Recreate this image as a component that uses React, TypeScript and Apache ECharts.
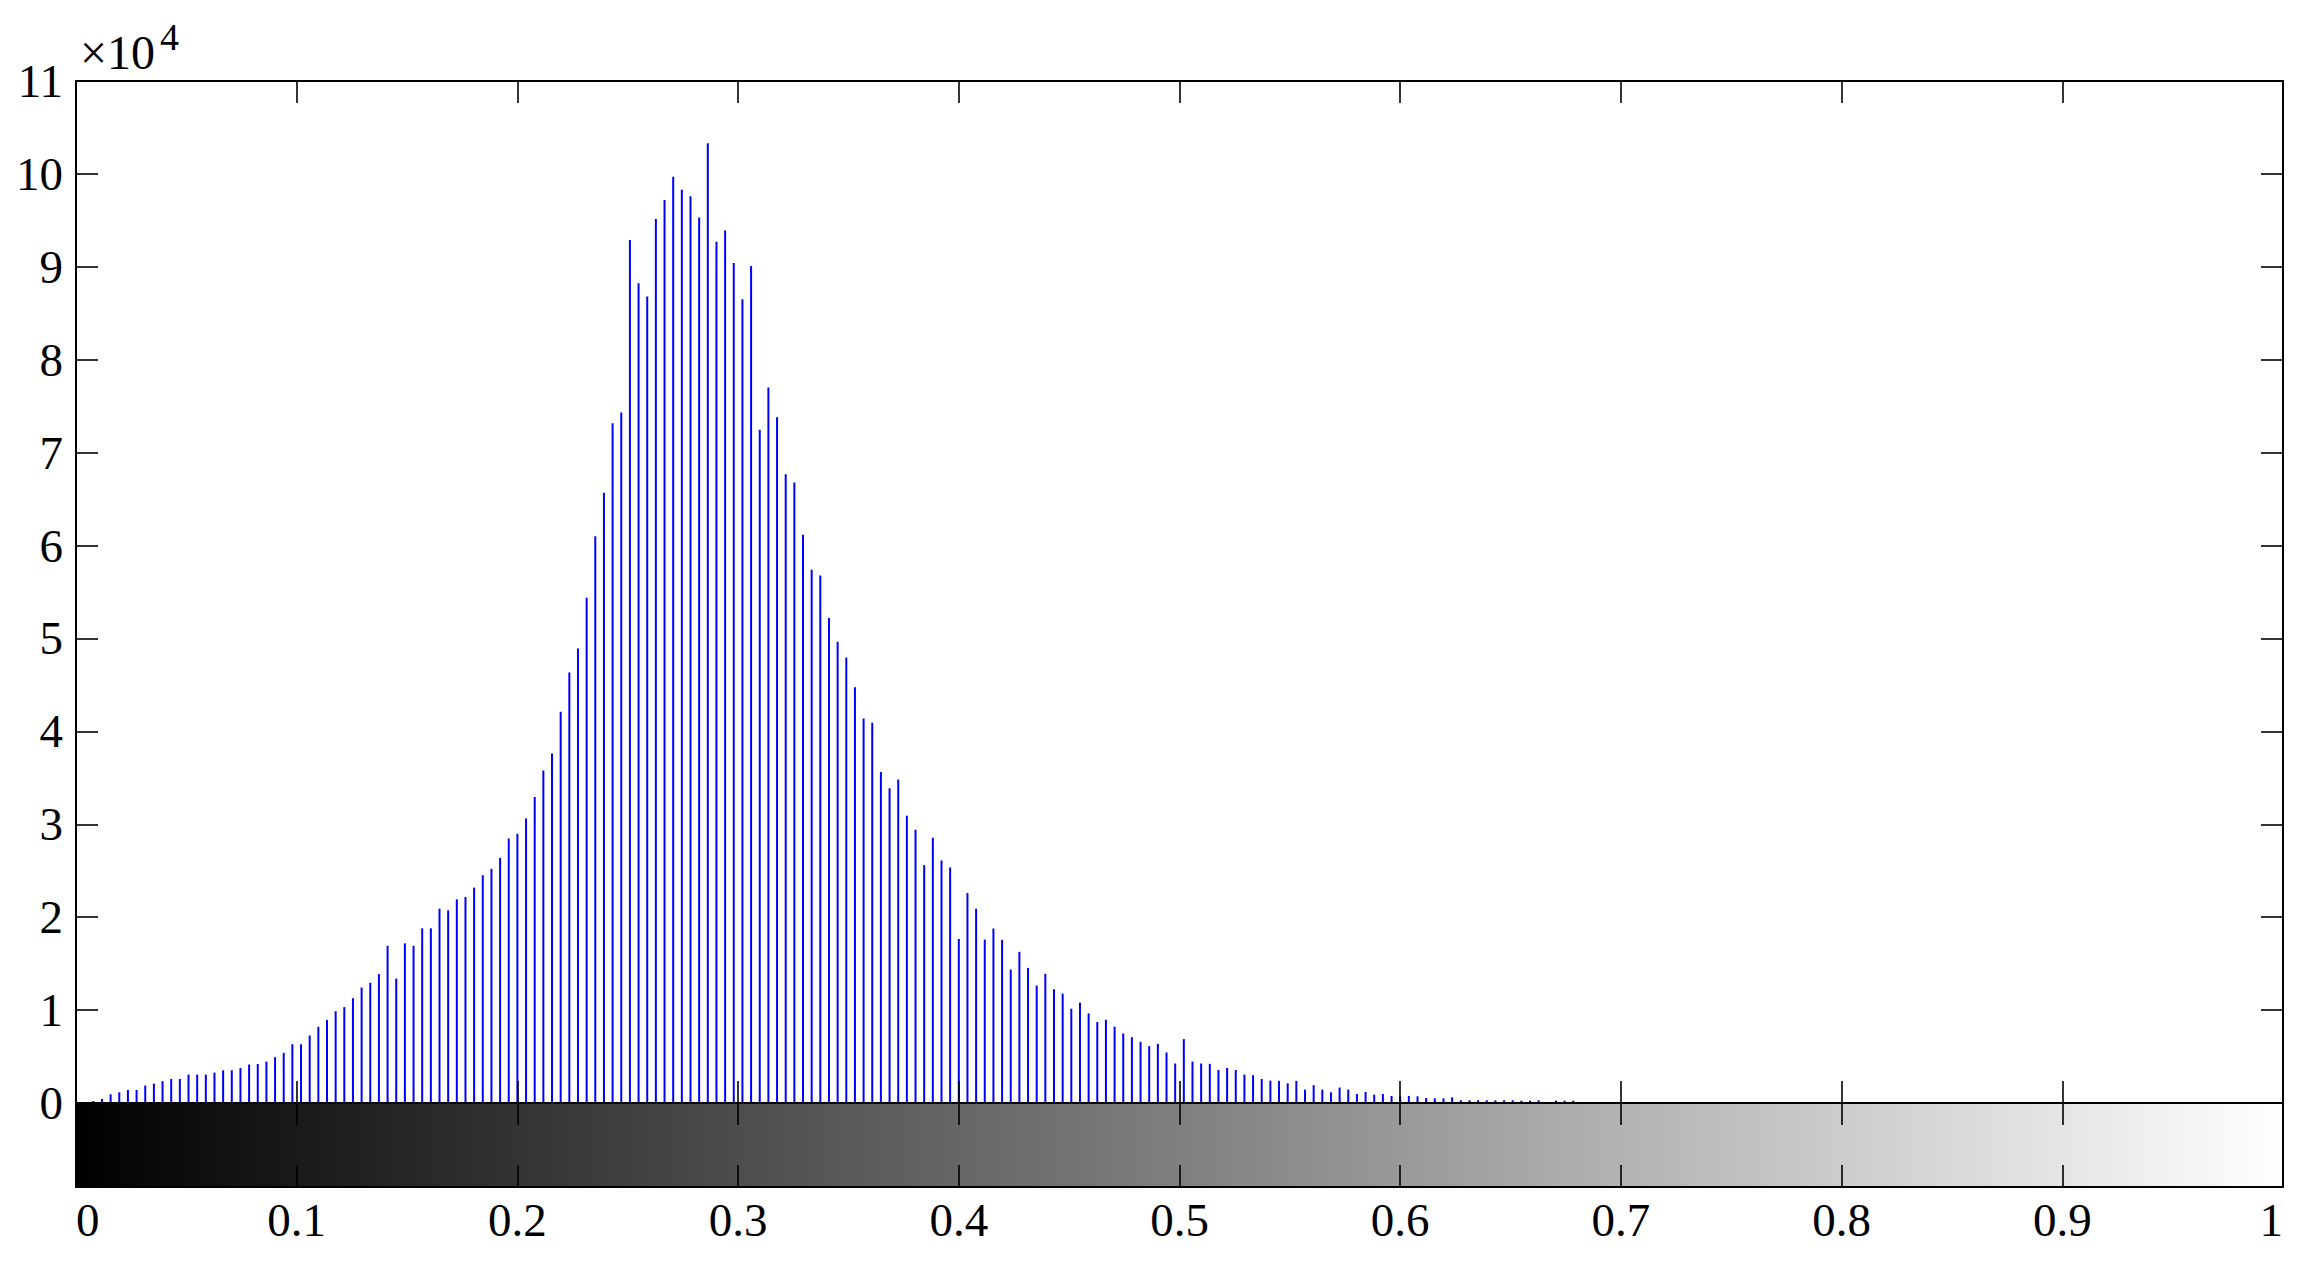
import React, { useEffect, useRef } from "react";
import * as echarts from "echarts";

// Histogram counts for 256 intensity bins (bin i sits at i/255)
const counts: number[] = [
  100, 0, 220, 440, 940, 1150, 1400, 1400, 1880, 2080,
  2350, 2590, 2590, 3060, 3060, 3060, 3270, 3520, 3520, 3760,
  4140, 4200, 4460, 4930, 5400, 6320, 6320, 7270, 8200, 8940,
  9880, 10320, 11280, 12430, 12940, 13870, 16920, 13390, 17180, 16920,
  18800, 18800, 20920, 20740, 21920, 22180, 23180, 24520, 25200, 26390,
  28470, 28980, 30610, 32930, 35790, 37630, 42120, 46340, 48930, 54380,
  60990, 65680, 73170, 74330, 92880, 88230, 86800, 95140, 97200, 99700,
  98300, 97600, 95300, 103300, 92700, 93900, 90400, 86500, 90100, 72450,
  77000, 73810, 67670, 66790, 61160, 57400, 56780, 52210, 49640, 47950,
  44760, 41380, 40940, 35620, 33870, 34810, 30920, 29420, 25600, 28550,
  26100, 25350, 17650, 22600, 20910, 17590, 18780, 17560, 14360, 16270,
  14540, 12640, 13900, 12240, 11770, 10150, 10800, 9650, 8710, 8960,
  8210, 7490, 7090, 6590, 6120, 6370, 5440, 4250, 6880, 4460,
  4250, 4210, 3560, 3780, 3560, 3060, 2990, 2590, 2410, 2380,
  2120, 2380, 1440, 1920, 1440, 1150, 1660, 1440, 970, 1190,
  900, 970, 760, 720, 760, 720, 540, 500, 500, 610,
  290, 290, 290, 290, 290, 290, 290, 250, 250, 290,
  0, 250, 250, 250, 0, 0, 0, 0, 0, 0,
  0, 0, 0, 0, 0, 0, 0, 0, 0, 0,
  0, 0, 0, 0, 0, 0, 0, 0, 0, 0,
  0, 0, 0, 0, 0, 0, 0, 0, 0, 0,
  0, 0, 0, 0, 0, 0, 0, 0, 0, 0,
  0, 0, 0, 0, 0, 0, 0, 0, 0, 0,
  0, 0, 0, 0, 0, 0, 0, 0, 0, 0,
  0, 0, 0, 0, 0, 0, 0, 0, 0, 0,
  0, 0, 0, 0, 0, 1870,
];

const xTickLabels = ["0", "0.1", "0.2", "0.3", "0.4", "0.5", "0.6", "0.7", "0.8", "0.9", "1"];
const yTickLabels = ["0", "1", "2", "3", "4", "5", "6", "7", "8", "9", "10", "11"];
const yScale = 10000; // ×10^4
const BIN_COUNT = 256;

const FONT = '"Liberation Serif", "Times New Roman", serif';

export default function App() {
  const ref = useRef<HTMLDivElement>(null);

  useEffect(() => {
    if (!ref.current) return;
    const chart = echarts.init(ref.current, undefined, { renderer: "svg" });

    const barData = counts.map((c, i) => [i / (BIN_COUNT - 1), c]);

    const tick = { show: true, inside: true, length: 22, lineStyle: { color: "#000", width: 1.6 } };
    const line = { show: true, onZero: false, lineStyle: { color: "#000", width: 2 } };
    const xLabel = {
      show: true,
      fontFamily: FONT,
      fontSize: 47,
      color: "#000",
      margin: 9,
      alignMinLabel: "left",
      alignMaxLabel: "right",
      formatter: (v: number) => xTickLabels[Math.round(v * 10)],
    };
    const yLabel = {
      show: true,
      fontFamily: FONT,
      fontSize: 47,
      color: "#000",
      margin: 13,
      formatter: (v: number) => yTickLabels[Math.round(v / yScale)],
    };

    const gradient = new echarts.graphic.LinearGradient(0, 0, 1, 0, [
      { offset: 0, color: "#000000" },
      { offset: 1, color: "#ffffff" },
    ]);

    chart.setOption({
      animation: false,
      backgroundColor: "#ffffff",
      grid: [
        { left: 76, top: 81, width: 2207, height: 1022, containLabel: false },
        { left: 76, top: 1103, width: 2207, height: 84, containLabel: false },
      ],
      xAxis: [
        {
          type: "value", gridIndex: 0, position: "bottom", min: 0, max: 1, interval: 0.1,
          axisLine: line, axisTick: tick, axisLabel: { show: false }, splitLine: { show: false }, z: 3,
        },
        {
          type: "value", gridIndex: 0, position: "top", min: 0, max: 1, interval: 0.1,
          axisLine: line, axisTick: tick, axisLabel: { show: false }, splitLine: { show: false }, z: 3,
        },
        {
          type: "value", gridIndex: 1, position: "bottom", min: 0, max: 1, interval: 0.1,
          axisLine: line, axisTick: tick, axisLabel: xLabel, splitLine: { show: false }, z: 3,
        },
        {
          type: "value", gridIndex: 1, position: "top", min: 0, max: 1, interval: 0.1,
          axisLine: line, axisTick: tick, axisLabel: { show: false }, splitLine: { show: false }, z: 3,
        },
      ],
      yAxis: [
        {
          type: "value", gridIndex: 0, position: "left", min: 0, max: 11 * yScale, interval: yScale,
          axisLine: line, axisTick: tick, axisLabel: yLabel, splitLine: { show: false }, z: 3,
        },
        {
          type: "value", gridIndex: 0, position: "right", min: 0, max: 11 * yScale, interval: yScale,
          axisLine: line, axisTick: tick, axisLabel: { show: false }, splitLine: { show: false }, z: 3,
        },
        {
          type: "value", gridIndex: 1, position: "left", min: 0, max: 1,
          axisLine: line, axisTick: { show: false }, axisLabel: { show: false }, splitLine: { show: false }, z: 3,
        },
        {
          type: "value", gridIndex: 1, position: "right", min: 0, max: 1,
          axisLine: line, axisTick: { show: false }, axisLabel: { show: false }, splitLine: { show: false }, z: 3,
        },
      ],
      series: [
        {
          type: "bar",
          xAxisIndex: 0,
          yAxisIndex: 0,
          data: barData,
          barWidth: 2,
          itemStyle: { color: "#0000ff" },
          z: 2,
        },
        {
          type: "custom",
          xAxisIndex: 2,
          yAxisIndex: 2,
          data: [[0, 0]],
          clip: false,
          z: 1,
          renderItem: (_params: any, api: any) => {
            const p0 = api.coord([0, 0]);
            const p1 = api.coord([1, 1]);
            return {
              type: "rect",
              shape: { x: p0[0], y: p1[1], width: p1[0] - p0[0], height: p0[1] - p1[1] },
              style: { fill: gradient },
            };
          },
        },
      ],
      graphic: [
        {
          type: "text",
          x: 80,
          y: 52,
          style: { text: "×10", font: `48px ${FONT}`, fill: "#000", verticalAlign: "middle", align: "left" },
        },
        {
          type: "text",
          x: 160,
          y: 37,
          style: { text: "4", font: `38px ${FONT}`, fill: "#000", verticalAlign: "middle", align: "left" },
        },
      ],
    });

    return () => chart.dispose();
  }, []);

  return (
    <div
      ref={ref}
      style={{ position: "fixed", left: 0, top: 0, width: 2302, height: 1263, background: "#fff" }}
    />
  );
}
